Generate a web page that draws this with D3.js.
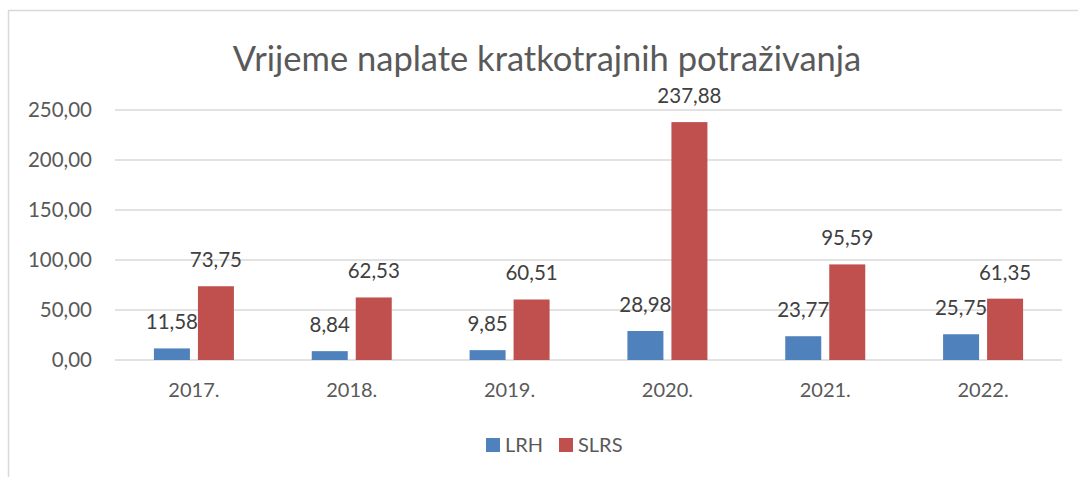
<!DOCTYPE html>
<html>
<head>
<meta charset="utf-8">
<script src="https://cdn.jsdelivr.net/npm/d3@7"></script>
<style>
  body { margin: 0; background: #fff; }
  svg { font-family: Lato, "Open Sans", sans-serif; }
</style>
</head>
<body>
<div class="chart"></div>
<script>
const years = ['2017.', '2018.', '2019.', '2020.', '2021.', '2022.'];
const seriesNames = ['LRH', 'SLRS'];
const lrh = [11.58, 8.84, 9.85, 28.98, 23.77, 25.75];
const slrs = [73.75, 62.53, 60.51, 237.88, 95.59, 61.35];
const yTicks = [0, 50, 100, 150, 200, 250];
const colors = ['#4F81BD', '#C0504D'];

const W = 1078, H = 477;
const margin = { top: 110, right: 16, bottom: 117, left: 115 };
const width = W - margin.left - margin.right;
const height = H - margin.top - margin.bottom;

const fmt = v => d3.format('.2f')(v).replace('.', ',');

const svg = d3.select('.chart').append('svg')
  .attr('width', W)
  .attr('height', H);

// chart border
svg.append('path')
  .attr('d', `M8.5,${H} V10.5 H${W}`)
  .attr('fill', 'none')
  .attr('stroke', '#d9d9d9')
  .attr('stroke-width', 1.5);

svg.append('text')
  .attr('x', 547)
  .attr('y', 71)
  .attr('text-anchor', 'middle')
  .attr('fill', '#595959')
  .attr('font-size', 34.5)
  .text('Vrijeme naplate kratkotrajnih potraživanja');

const g = svg.append('g')
  .attr('transform', `translate(${margin.left}, ${margin.top})`);

const x = d3.scaleBand().domain(years).range([0, width]);
const y = d3.scaleLinear().domain([0, 250]).range([height, 0]);
const barW = 36, gap = 8;

// gridlines
g.selectAll('.grid')
  .data(yTicks)
  .enter().append('line')
  .attr('x1', 0).attr('x2', width)
  .attr('y1', d => y(d)).attr('y2', d => y(d))
  .attr('stroke', '#d9d9d9')
  .attr('stroke-width', 1.5);

// y tick labels
g.selectAll('.ytick')
  .data(yTicks)
  .enter().append('text')
  .attr('x', -23)
  .attr('y', d => y(d) + 7)
  .attr('text-anchor', 'end')
  .attr('fill', '#595959')
  .attr('font-size', 20.5)
  .text(d => fmt(d));

const series = [lrh, slrs];
series.forEach((vals, si) => {
  const off = si === 0 ? -gap / 2 - barW : gap / 2;
  g.selectAll('.bar' + si)
    .data(vals)
    .enter().append('rect')
    .attr('x', (d, i) => x(years[i]) + x.bandwidth() / 2 + off)
    .attr('y', d => y(d))
    .attr('width', barW)
    .attr('height', d => height - y(d))
    .attr('fill', colors[si]);

  g.selectAll('.lab' + si)
    .data(vals)
    .enter().append('text')
    .attr('x', (d, i) => x(years[i]) + x.bandwidth() / 2 + off + barW / 2)
    .attr('y', d => y(d) - 19)
    .attr('text-anchor', 'middle')
    .attr('fill', '#404040')
    .attr('font-size', 20.5)
    .text(d => fmt(d));
});

// x labels
g.selectAll('.xtick')
  .data(years)
  .enter().append('text')
  .attr('x', d => x(d) + x.bandwidth() / 2)
  .attr('y', height + 37)
  .attr('text-anchor', 'middle')
  .attr('fill', '#595959')
  .attr('font-size', 20)
  .text(d => d);

// legend
const legendX = [486, 559];
seriesNames.forEach((name, i) => {
  svg.append('rect')
    .attr('x', legendX[i]).attr('y', 438)
    .attr('width', 14).attr('height', 14)
    .attr('fill', colors[i]);
  svg.append('text')
    .attr('x', legendX[i] + 19).attr('y', 452)
    .attr('fill', '#595959')
    .attr('font-size', 20)
    .text(name);
});
</script>
</body>
</html>
